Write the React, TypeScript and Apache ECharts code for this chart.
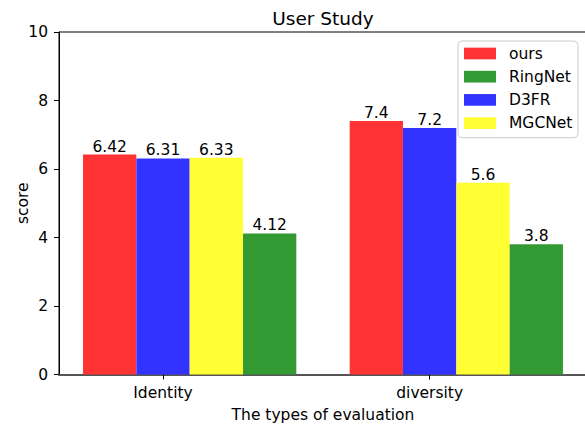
import React, { useEffect, useRef } from "react";
import * as echarts from "echarts";

const categories = ["Identity", "diversity"];
const seriesNames = ["ours", "D3FR", "MGCNet", "RingNet"];
const legendOrder = ["ours", "RingNet", "D3FR", "MGCNet"];
const ours = [6.42, 7.4];
const d3fr = [6.31, 7.2];
const mgcnet = [6.33, 5.6];
const ringnet = [4.12, 3.8];
const colors = ["#ff3333", "#3333ff", "#ffff33", "#339933"];
const barStep = 0.2;
const barOffsets = [-1, 0, 1, 2];

const FONT = "DejaVu Sans";

export default function App() {
  const ref = useRef<HTMLDivElement>(null);
  useEffect(() => {
    if (!ref.current) return;
    const chart = echarts.init(ref.current, null, { renderer: "svg" });
    const values = [ours, d3fr, mgcnet, ringnet];
    const gridLeft = 59;
    const gridTop = 32;
    const gridWidth = 528;
    const gridHeight = 342.5;
    const series = seriesNames.map((name, si) => ({
      name,
      type: "bar",
      barWidth: 53.3,
      barGap: "-100%",
      itemStyle: { color: colors[si] },
      data: values[si].map((v, ci) => [ci + barOffsets[si] * barStep, v]),
      label: {
        show: true,
        position: "top",
        distance: 0,
        color: "#000",
        fontFamily: FONT,
        fontSize: 15.5,
        formatter: (p: any) => String(p.value[1]),
      },
    }));
    chart.setOption({
      animation: false,
      textStyle: { fontFamily: FONT },
      grid: {
        left: gridLeft,
        top: gridTop,
        width: gridWidth,
        height: gridHeight,
        show: true,
        borderColor: "#000",
        borderWidth: 1,
        containLabel: false,
        outerBoundsMode: "none",
      },
      graphic: [
        {
          type: "text",
          x: gridLeft + gridWidth / 2,
          y: 18.6,
          style: {
            text: "User Study",
            fontFamily: FONT,
            fontSize: 18.5,
            fill: "#000",
            textAlign: "center",
            textVerticalAlign: "middle",
          },
        },
      ],
      legend: {
        data: legendOrder,
        orient: "vertical",
        left: 458,
        top: 41,
        padding: [4.5, 5.6, 6.6, 6],
        itemWidth: 32,
        itemHeight: 11.7,
        itemGap: 7.2,
        icon: "rect",
        borderColor: "#cccccc",
        borderWidth: 1,
        borderRadius: 4,
        backgroundColor: "rgba(255,255,255,0.8)",
        textStyle: {
          fontFamily: FONT,
          fontSize: 15.5,
          color: "#000",
          lineHeight: 16,
          padding: [0, 0, 0, 8],
        },
      },
      xAxis: {
        type: "value",
        min: -0.39,
        max: 1.59,
        name: "The types of evaluation",
        nameLocation: "middle",
        nameGap: 32,
        nameMoveOverlap: false,
        nameTextStyle: { fontFamily: FONT, fontSize: 15.5, color: "#000" },
        splitLine: { show: false },
        axisLine: { show: true, onZero: false, lineStyle: { color: "#555", width: 2 } },
        axisTick: {
          show: true,
          length: 5,
          lineStyle: { color: "#000" },
          customValues: categories.map((_, i) => i),
        },
        axisLabel: {
          show: true,
          margin: 10,
          fontFamily: FONT,
          fontSize: 15.5,
          color: "#000",
          customValues: categories.map((_, i) => i),
          formatter: (v: number) => categories[Math.round(v)] ?? "",
        },
      },
      yAxis: {
        type: "value",
        min: 0,
        max: 10,
        interval: 2,
        name: "score",
        nameLocation: "middle",
        nameGap: 28,
        nameMoveOverlap: false,
        nameTextStyle: { fontFamily: FONT, fontSize: 15.5, color: "#000" },
        splitLine: { show: false },
        axisLine: { show: true, onZero: false, lineStyle: { color: "#000", width: 1 } },
        axisTick: { show: true, length: 5, lineStyle: { color: "#000" } },
        axisLabel: {
          margin: 11,
          fontFamily: FONT,
          fontSize: 15.5,
          color: "#000",
        },
      },
      series,
    });
    return () => chart.dispose();
  }, []);
  return (
    <div
      ref={ref}
      style={{ position: "absolute", left: 0, top: 0, width: 585, height: 424, background: "#fff" }}
    />
  );
}
